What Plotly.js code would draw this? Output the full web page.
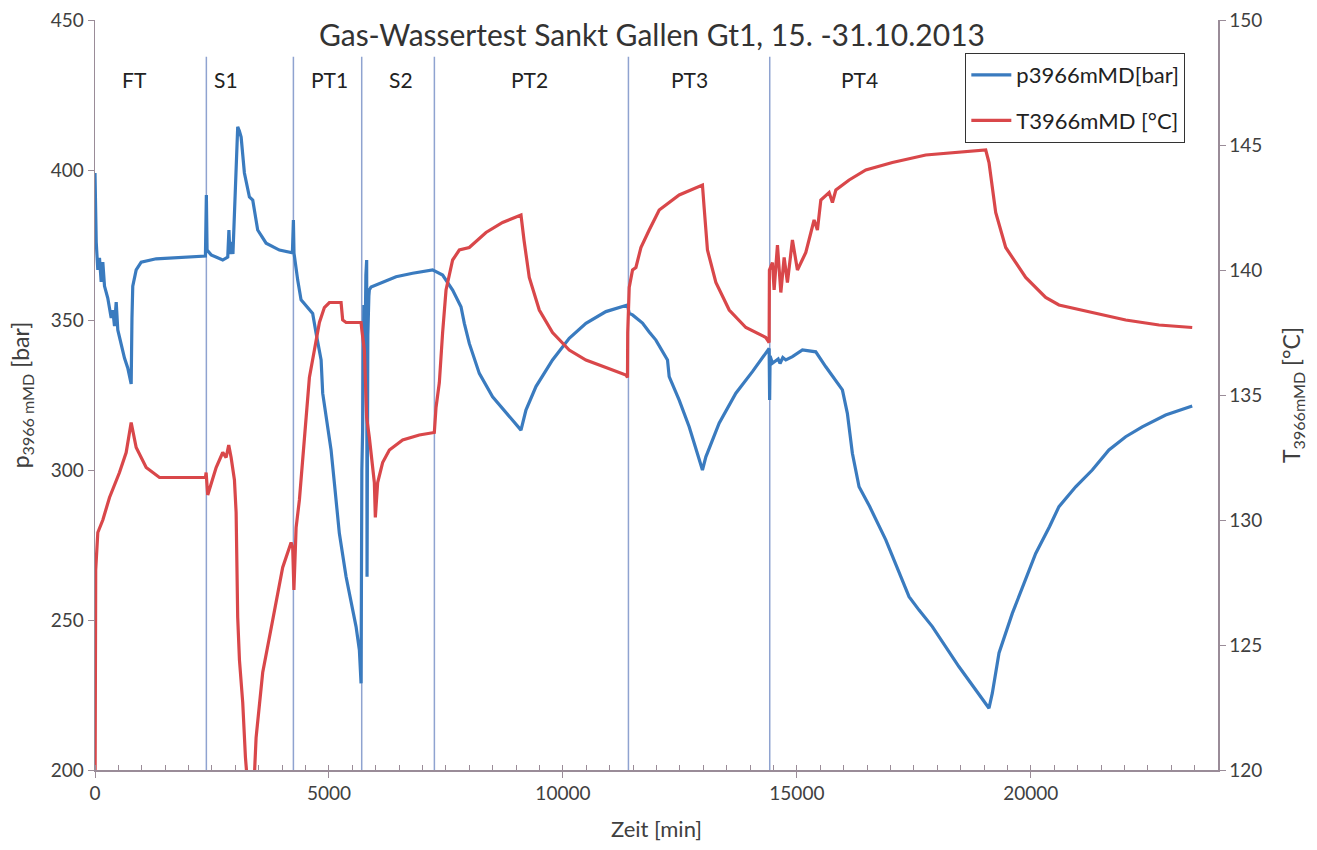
<!DOCTYPE html>
<html>
<head>
<meta charset="utf-8">
<script src="https://cdn.plot.ly/plotly-3.0.1.min.js"></script>
<style>html,body{margin:0;padding:0;background:#fff;}#chart{width:1317px;height:850px;}</style>
</head>
<body>
<div id="chart"></div>
<script>
// Pressure p3966mMD [bar]
var timeP = [0,10,26,60,96,132,167,203,273,346,380,417,453,487,560,630,700,752,773,790,807,880,987,1307,2018,2360,
  2380,2395,2482,2730,2837,2862,2884,2916,2948,2980,3012,3050,3086,3123,3193,3300,3371,3477,3657,3941,4219,4240,4253,
  4298,4332,4404,4652,4725,4832,4866,4938,5045,5116,5222,5366,5472,5579,5650,5686,
  5703,5720,5746,5767,5789,5806,5814,5831,5853,5863,5900,6077,6434,6788,7215,7429,7643,7822,7893,7999,8213,8497,8854,9104,
  9210,9424,9778,10135,10492,10919,11380,
  11417,11488,11701,11844,11987,12235,12271,12485,12698,12982,13055,13339,13696,14050,14407,
  14418,14428,14478,14600,14640,14700,14764,14905,15119,15404,15618,15973,16079,16186,16329,16556,16900,17184,17397,17611,17895,18465,19106,
  19177,19320,19604,19890,20104,20398,20601,20958,21313,21669,22027,22381,22881,23449];
var pressure = [399,392,376,366.7,370.7,362.7,369.3,361.3,357.3,350.7,353.3,348,356,346.7,341.3,337.3,334,330.7,328.7,350.7,361.3,366.7,369.3,370.4,371,371.3,
  391.7,373.3,371.7,370,371,380,372,376,372,385.7,400,414.4,413,411,399,391,390,380,375.6,373.3,372.4,383.3,372.3,
  366.7,363.3,356.7,352.2,345.6,336.7,325.6,317.8,306.7,295.6,278.9,264.4,256.7,247.8,240,228.9,
  300,313.3,355,335,365,370,264.4,345,358,360,361,362.2,364.4,365.6,366.7,365,360,354.4,348.9,342.2,332.2,324.4,317.8,313.3,
  320,327.8,336.7,343.9,348.9,352.8,355,
  352.2,351.7,349,346,343.3,336.7,331.1,323.3,314.4,300,304.4,315.6,325.6,332.8,340.5,
  323.3,338,335.6,337,335.5,337.5,336.7,337.8,340,339.4,334.4,326.7,318.9,305.6,294.4,287.8,276.7,265.6,257.8,253.3,247.8,234.4,220.6,
  225.6,239,252.2,263.3,272.2,281.1,287.8,294.4,300,306.7,311.1,314.4,318.3,321.3];

// Temperature T3966mMD [°C]
var timeT = [0,10,15,60,167,310,523,666,773,880,1094,1378,2360,
  2375,2409,2589,2730,2802,2858,2909,2980,3016,3050,3087,3157,3215,3258,3322,3407,3443,3584,3798,4011,4191,4225,
  4251,4298,4368,4439,4511,4582,4689,4796,4902,5009,5259,5293,5366,5686,
  5703,5757,5806,5863,5970,5991,6041,6147,6291,6575,6931,7252,
  7288,7359,7429,7502,7643,7786,7999,8356,8711,9104,9168,9281,9495,9778,10135,10492,10919,11346,11380,
  11385,11417,11488,11560,11667,11844,12058,12485,12982,13018,13089,13269,13554,13910,14337,14407,
  14413,14478,14514,14585,14657,14728,14798,14905,15012,15191,15368,15439,15512,15689,15760,15833,16117,16473,17041,17754,18466,19036,
  19106,19249,19463,19890,20317,20601,21313,22027,22740,23449];
var temperature = [118,125,128,129.5,130,130.9,131.9,132.7,133.9,132.9,132.1,131.7,131.7,
  131.9,131,132.1,132.7,132.5,133,132.5,131.6,130.3,126.1,124.4,122.7,120.5,119.5,119.3,119.8,121.3,123.9,126,128.1,129.1,128.9,
  127.2,129.7,130.8,132.5,134.4,135.7,136.8,137.9,138.5,138.7,138.7,138,137.9,137.9,
  137.6,136.8,134.1,133.3,131.5,130.1,131.5,132.3,132.8,133.2,133.4,133.5,
  134.5,135.5,137.5,139.2,140.4,140.8,140.9,141.5,141.9,142.2,141.2,139.7,138.4,137.5,136.8,136.4,136.1,135.8,135.7,
  137.5,139.3,140,140.1,140.9,141.6,142.4,143,143.4,142.5,140.8,139.5,138.4,137.7,137.3,137.1,
  140,140.3,139.2,141,139.1,140.5,139.5,141.2,140,140.7,142,141.6,142.8,143.1,142.7,143.2,143.6,144,144.3,144.6,144.7,144.8,
  144.3,142.3,140.9,139.7,138.9,138.6,138.3,138,137.8,137.7];

// Test phases
var phaseBounds = [2380, 4240, 5700, 7253, 11400, 14420];
var phaseNames = ['FT', 'S1', 'PT1', 'S2', 'PT2', 'PT3', 'PT4'];
var phaseLabelX = [844, 2809, 5009, 6547, 9281, 12699, 16329];

var FONT = 'Lato, "Open Sans", sans-serif';
var AX = '#9a8c98';
var TXT = '#404040';

var traces = [
  {x: timeP, y: pressure, type: 'scatter', mode: 'lines', name: 'p3966mMD[bar]', legendgroup: 'a',
   line: {color: '#3a7bbf', width: 3.2}, yaxis: 'y'},
  {x: timeT, y: temperature, type: 'scatter', mode: 'lines', name: 'T3966mMD [°C]', legendgroup: 'b',
   line: {color: '#d9474a', width: 3.2}, yaxis: 'y2'}
];

var shapes = phaseBounds.map(function (b) {
  return {type: 'line', xref: 'x', yref: 'paper', x0: b, x1: b, y0: 0, y1: 0.951,
          line: {color: '#8fa3d0', width: 1.5}, layer: 'below'};
});
var annotations = phaseNames.map(function (n, i) {
  return {x: phaseLabelX[i], y: 0.92, xref: 'x', yref: 'paper', yanchor: 'middle', xanchor: 'center',
          text: n, showarrow: false, font: {family: FONT, size: 21, color: '#222'}};
});

var layout = {
  width: 1317, height: 850,
  margin: {l: 95, r: 99, t: 20, b: 80},
  paper_bgcolor: '#fff', plot_bgcolor: '#fff',
  font: {family: FONT, color: TXT, size: 19},
  title: {text: 'Gas-Wassertest Sankt Gallen Gt1, 15. -31.10.2013', x: 0.495, xanchor: 'center',
          y: 0.958, yanchor: 'middle', font: {family: FONT, size: 30, color: '#333'}},
  xaxis: {range: [0, 24000], tick0: 0, dtick: 5000, showgrid: false, zeroline: false,
          exponentformat: 'none', separatethousands: false, tickformat: 'd',
          showline: true, linecolor: AX, linewidth: 1.5, ticks: 'outside', ticklen: 6, tickcolor: AX,
          minor: {dtick: 500, ticks: 'inside', ticklen: 5, tickcolor: AX, showgrid: false},
          tickfont: {size: 19, color: TXT},
          title: {text: 'Zeit [min]', font: {size: 22, color: TXT}, standoff: 18}},
  yaxis: {range: [200, 450], dtick: 50, showgrid: false, zeroline: false,
          showline: true, linecolor: AX, linewidth: 1.5, ticks: 'outside', ticklen: 6, tickcolor: AX,
          tickfont: {size: 19, color: TXT},
          title: {text: 'p<sub>3966 mMD</sub> [bar]', font: {size: 23, color: TXT}, standoff: 14}},
  yaxis2: {range: [120, 150], dtick: 5, overlaying: 'y', side: 'right', showgrid: false, zeroline: false,
          showline: true, linecolor: AX, linewidth: 1.5, ticks: 'outside', ticklen: 6, tickcolor: AX,
          tickfont: {size: 19, color: TXT},
          title: {text: 'T<sub>3966mMD</sub> [°C]', font: {size: 23, color: TXT}, standoff: 22}},
  showlegend: true,
  legend: {x: 0.775, y: 0.956, xanchor: 'left', yanchor: 'top', bgcolor: '#fff',
           bordercolor: '#333', borderwidth: 1, font: {size: 22, color: '#222'},
           traceorder: 'grouped', tracegroupgap: 14, itemwidth: 40},
  shapes: shapes,
  annotations: annotations
};

Plotly.newPlot('chart', traces, layout, {displayModeBar: false, staticPlot: true});
</script>
</body>
</html>
